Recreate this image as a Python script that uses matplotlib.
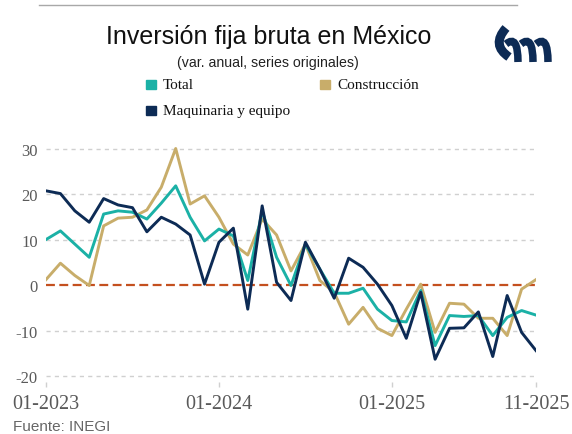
import matplotlib
matplotlib.use('Agg')
import matplotlib.pyplot as plt
from matplotlib.path import Path
from matplotlib.patches import PathPatch, Rectangle
from matplotlib.lines import Line2D

plt.rcParams['axes.unicode_minus'] = False

# datos mensuales 01-2023 .. 11-2025 (var. anual %)
total = [10.0, 11.9, 9.0, 6.1, 15.6, 16.3, 16.0, 14.5, 18.0, 21.8, 14.9, 9.7,
         12.3, 10.8, 1.0, 16.3, 6.1, -0.1, 9.0, 3.5, -1.8, -1.8, -0.7, -5.3,
         -7.8, -8.1, -1.2, -13.3, -6.7, -6.9, -6.7, -11.1, -7.1, -5.6, -6.6]
construccion = [1.2, 4.8, 2.1, -0.1, 13.0, 14.7, 14.9, 16.5, 21.5, 30.0, 17.8, 19.6,
                14.9, 9.0, 6.6, 14.5, 11.0, 3.1, 9.0, 1.0, -1.6, -8.6, -4.9, -9.5,
                -11.1, -5.3, 0.2, -10.4, -4.0, -4.2, -7.3, -7.3, -11.1, -0.9, 1.2]
maquinaria = [20.7, 20.1, 16.3, 13.8, 19.0, 17.6, 17.0, 11.7, 14.9, 13.4, 11.0, 0.2,
              9.4, 12.5, -5.3, 17.4, 0.6, -3.4, 9.4, 3.5, -2.9, 5.9, 3.9, 0.2,
              -4.5, -11.7, -1.6, -16.3, -9.5, -9.4, -5.9, -15.7, -2.3, -10.4, -14.4]
tick_pos = [0, 12, 24, 34]
tick_labels = ['01-2023', '01-2024', '01-2025', '11-2025']

c_total = '#1BB1A6'
c_cons = '#C8AD6A'
c_maq = '#0D2B55'
W, H = 572, 435

fig = plt.figure(figsize=(W / 100, H / 100), dpi=100)
ax = fig.add_axes([46 / W, 1 - 383 / H, 490 / W, (383 - 140.4) / H])

x = list(range(len(total)))
ax.plot(x, construccion, color=c_cons, lw=2.1, zorder=3)
ax.plot(x, total, color=c_total, lw=2.1, zorder=4)
ax.plot(x, maquinaria, color=c_maq, lw=2.1, zorder=5)
ax.axhline(0, color='#C4501F', lw=1.6, dashes=(4, 2), zorder=2)

ax.set_xlim(0, 34)
ax.set_ylim(-21.3, 32)
ax.set_yticks([-20, -10, 0, 10, 20, 30])
for v in [-20, -10, 10, 20, 30]:
    ax.axhline(v, color='#D0D0D0', lw=1, dashes=(3, 3), zorder=1)
ax.set_xticks(tick_pos)
ax.set_xticklabels(tick_labels)
for s in ax.spines.values():
    s.set_visible(False)
ax.tick_params(axis='y', length=0, pad=6, labelsize=12, labelcolor='#5A5A5A')
ax.tick_params(axis='x', length=3.5, width=1, color='#D0D0D0', pad=5,
               labelsize=14.5, labelcolor='#5A5A5A')
for lab in ax.get_xticklabels() + ax.get_yticklabels():
    lab.set_family('Liberation Serif')


def fx(px):
    return px / W


def fy(py):
    return 1 - py / H


# linea superior
fig.add_artist(Line2D([fx(39), fx(517)], [fy(6), fy(6)], color='#A8A8A8', lw=1))

fig.text(fx(269), fy(37), 'Inversión fija bruta en México', ha='center', va='center',
         fontsize=18, family='Liberation Sans', color='#111111')
fig.text(fx(268), fy(63), '(var. anual, series originales)', ha='center', va='center',
         fontsize=10.2, family='Liberation Sans', color='#222222')

# leyenda: (nombre, color, x cuadro, x texto, y)
legend_items = [('Total', c_total, 146, 163, 85.5), ('Construcción', c_cons, 320, 337, 85.5),
                ('Maquinaria y equipo', c_maq, 146, 163, 111.5)]
for name, col, sx, tx, ly in legend_items:
    fig.add_artist(Rectangle((fx(sx), fy(ly + 4.5)), 9.5 / W, 9.5 / H, color=col,
                             transform=fig.transFigure))
    fig.text(fx(tx), fy(ly), name, ha='left', va='center', fontsize=11,
             family='Liberation Serif', color='#111111')

fig.text(fx(13), fy(427), 'Fuente: INEGI', ha='left', va='center', fontsize=11,
         family='Liberation Sans', color='#666666')

# logo aproximado
def stroke(pts, lw):
    verts = [(fx(a), fy(b)) for a, b in pts]
    codes = [Path.MOVETO] + [Path.CURVE3] * (len(pts) - 1)
    fig.add_artist(PathPatch(Path(verts, codes), fill=False, edgecolor=c_maq, lw=lw,
                             capstyle='butt', transform=fig.transFigure))


stroke([(506, 29), (491, 46), (509, 58)], 6.5)
for k in range(3):
    stroke([(506 + 15 * k, 45), (518 + 15 * k, 35), (518 + 15 * k, 63)], 5.4)

fig.savefig('out.png', dpi=100)
